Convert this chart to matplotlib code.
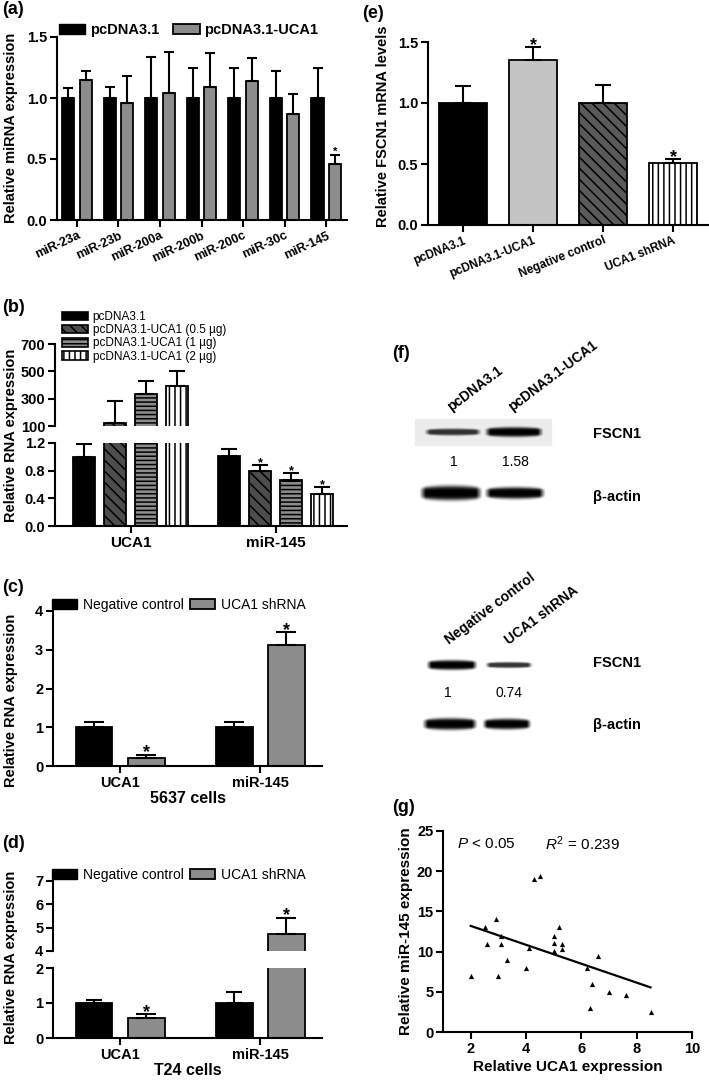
import numpy as np
import matplotlib.pyplot as plt
from matplotlib.patches import Patch, Rectangle

plt.rcParams['font.family'] = ['Liberation Sans', 'DejaVu Sans']
plt.rcParams['font.weight'] = 'bold'
plt.rcParams['axes.labelweight'] = 'bold'
plt.rcParams['axes.linewidth'] = 1.5
plt.rcParams['hatch.linewidth'] = 1.1
plt.rcParams['mathtext.fontset'] = 'custom'
plt.rcParams['mathtext.it'] = 'Liberation Sans:style=italic:weight=normal'
plt.rcParams['mathtext.rm'] = 'Liberation Sans:weight=normal'

# (a) miRNA expression after UCA1 overexpression
mirnas = ['miR-23a', 'miR-23b', 'miR-200a', 'miR-200b', 'miR-200c', 'miR-30c', 'miR-145']
a_ctrl = [1.0, 1.0, 1.0, 1.0, 1.0, 1.0, 1.0]
a_ctrl_top = [1.08, 1.09, 1.34, 1.25, 1.25, 1.22, 1.25]
a_uca1 = [1.15, 0.96, 1.04, 1.09, 1.14, 0.87, 0.46]
a_uca1_top = [1.22, 1.18, 1.38, 1.37, 1.33, 1.03, 0.53]

# (b) dose response, broken axis
b_genes = ['UCA1', 'miR-145']
b_labels = ['pcDNA3.1', 'pcDNA3.1-UCA1 (0.5 µg)', 'pcDNA3.1-UCA1 (1 µg)', 'pcDNA3.1-UCA1 (2 µg)']
b_vals = [[1.0, 1.01], [122, 0.79], [332, 0.67], [392, 0.46]]
b_tops = [[1.18, 1.12], [283, 0.88], [432, 0.77], [500, 0.57]]
b_star = [[0, 0], [0, 1], [0, 1], [0, 1]]

# (c) 5637 cells
cd_genes = ['UCA1', 'miR-145']
cd_labels = ['Negative control', 'UCA1 shRNA']
c_neg = [1.0, 1.0]
c_neg_top = [1.14, 1.14]
c_sh = [0.2, 3.13]
c_sh_top = [0.29, 3.46]

# (d) T24 cells
d_neg = [1.0, 1.0]
d_neg_top = [1.1, 1.32]
d_sh = [0.57, 4.74]
d_sh_top = [0.69, 5.43]

# (e) FSCN1 mRNA
e_groups = ['pcDNA3.1', 'pcDNA3.1-UCA1', 'Negative control', 'UCA1 shRNA']
e_vals = [1.0, 1.35, 1.0, 0.51]
e_tops = [1.14, 1.46, 1.15, 0.54]
e_star = [0, 1, 0, 1]

# (f) western blot quantification
f_lanes_1 = ['pcDNA3.1', 'pcDNA3.1-UCA1']
f_quant_1 = ['1', '1.58']
f_lanes_2 = ['Negative control', 'UCA1 shRNA']
f_quant_2 = ['1', '0.74']

# (g) correlation
g_uca1 = [2.0, 2.5, 2.6, 2.9, 3.0, 3.1, 3.1, 3.3, 4.0, 4.1, 4.3, 4.5, 5.0, 5.0, 5.0,
          5.2, 5.3, 5.3, 6.2, 6.6, 6.3, 6.4, 7.0, 7.6, 8.5]
g_mir = [7.0, 13.0, 11.0, 14.0, 7.0, 12.0, 10.9, 9.0, 8.0, 10.5, 19.0, 19.4, 12.0, 11.1, 10.1,
         13.0, 11.0, 10.3, 8.0, 9.5, 3.0, 6.0, 5.0, 4.6, 2.5]
g_fit_x = [2.0, 8.5]
g_fit_y = [13.2, 5.55]

W, H = 709, 1081
fig = plt.figure(figsize=(W / 100, H / 100), dpi=100)


def px_axes(l, t, r, b):
    return fig.add_axes([l / W, 1 - b / H, (r - l) / W, (b - t) / H])


def fxy(x, y):
    return (x / W, 1 - y / H)


def style(ax, size=10):
    ax.spines['top'].set_visible(False)
    ax.spines['right'].set_visible(False)
    ax.tick_params(width=1.5, length=5, labelsize=size, pad=2)


def bars(ax, x, vals, tops, w, cap, **kw):
    ax.bar(x, vals, w, edgecolor='black', linewidth=1.3, zorder=2, **kw)
    err = np.array(tops) - np.array(vals)
    ax.errorbar(x, vals, yerr=[np.zeros(len(err)), err], fmt='none', ecolor='black',
                elinewidth=1.5, capsize=cap, capthick=1.5, zorder=3)


def star(ax, x, y, size=12, dy=-2):
    lo, hi = ax.get_ylim()
    if lo <= y <= hi:
        ax.annotate('*', (x, y), xytext=(0, dy), textcoords='offset points',
                    ha='center', va='baseline', fontsize=size)


def letter(x, y, s):
    fig.text(x / W, 1 - y / H, s, fontsize=13, va='center', ha='left')


# ---------- (a)
ax = px_axes(57, 37, 347, 220)
x = np.arange(len(mirnas))
bars(ax, x - 0.21, a_ctrl, a_ctrl_top, 0.29, 3.5, color='black')
bars(ax, x + 0.21, a_uca1, a_uca1_top, 0.29, 3.5, color='#8c8c8c')
star(ax, 6 + 0.21, a_uca1_top[6], 8, 0.5)
ax.set_xlim(-0.48, 6.5)
ax.set_ylim(0, 1.5)
ax.set_yticks([0, 0.5, 1.0, 1.5], ['0.0', '0.5', '1.0', '1.5'])
ax.set_xticks(x, mirnas, rotation=25, ha='right', rotation_mode='anchor')
style(ax, 10.5)
ax.tick_params(axis='x', labelsize=9)
fig.legend([Patch(facecolor='black', edgecolor='black'),
            Patch(facecolor='#8c8c8c', edgecolor='black', linewidth=1.3)],
           ['pcDNA3.1', 'pcDNA3.1-UCA1'], loc='center left', bbox_to_anchor=fxy(59, 30),
           ncol=2, frameon=False, fontsize=10.5, handlelength=1.8, handleheight=0.7,
           handletextpad=0.3, columnspacing=1.0, borderpad=0, borderaxespad=0)
fig.text(11 / W, 1 - 128 / H, 'Relative miRNA expression', rotation=90, va='center',
         ha='center', fontsize=10.5)
letter(2, 9, '(a)')

# ---------- (b)
b_colors = ['black', '#4d4d4d', '#8c8c8c', 'white']
b_hatch = [None, '\\\\\\', '----', '|||']
b_off = (np.arange(4) - 1.5) * 0.213
axt = px_axes(55, 344, 347, 426)
axb = px_axes(55, 443, 347, 526)
axt.set_ylim(100, 700)
axb.set_ylim(0, 1.2)
xg = np.arange(2)
for a in (axt, axb):
    for i in range(4):
        bars(a, xg + b_off[i], b_vals[i], b_tops[i], 0.152, 5.5,
             color=b_colors[i], hatch=b_hatch[i])
        for j in range(2):
            if b_star[i][j]:
                star(a, j + b_off[i], b_tops[i][j], 9, -1)
    a.set_xlim(-0.52, 1.49)
    style(a, 10.5)
axt.set_yticks([100, 300, 500, 700])
axt.spines['bottom'].set_visible(False)
axt.tick_params(axis='x', bottom=False, labelbottom=False)
axb.set_yticks([0, 0.4, 0.8, 1.2], ['0.0', '0.4', '0.8', '1.2'])
axb.set_xticks(xg, b_genes, fontsize=11)
axt.legend([Patch(facecolor=b_colors[i], edgecolor='black', hatch=b_hatch[i], linewidth=1.2)
            for i in range(4)], b_labels, loc='upper left', bbox_to_anchor=fxy(62, 311),
           bbox_transform=fig.transFigure, prop={'weight': 'normal', 'size': 8.5},
           handlelength=2.2, handleheight=0.75, labelspacing=0.1, handletextpad=0.4,
           frameon=False, borderpad=0, borderaxespad=0)
fig.text(11 / W, 1 - 435 / H, 'Relative RNA expression', rotation=90, va='center',
         ha='center', fontsize=10.5)
letter(2, 308, '(b)')


# ---------- (c) and (d)
def cd_legend(y):
    fig.legend([Patch(facecolor='black', edgecolor='black'),
                Patch(facecolor='#8c8c8c', edgecolor='black', linewidth=1.3)],
               cd_labels, loc='center left', bbox_to_anchor=fxy(52, y), ncol=2,
               frameon=False, prop={'weight': 'normal', 'size': 10}, handlelength=1.8,
               handleheight=0.7, handletextpad=0.4, columnspacing=0.5, borderpad=0,
               borderaxespad=0)


ax = px_axes(53, 611, 322, 766)
bars(ax, xg - 0.186, c_neg, c_neg_top, 0.26, 7, color='black')
bars(ax, xg + 0.186, c_sh, c_sh_top, 0.26, 7, color='#8c8c8c')
ax.set_ylim(0, 4)
for j in range(2):
    star(ax, j + 0.186, c_sh_top[j], 13)
ax.set_xlim(-0.48, 1.44)
ax.set_yticks([0, 1, 2, 3, 4])
ax.set_xticks(xg, cd_genes)
style(ax, 10.5)
ax.set_xlabel('5637 cells', fontsize=11.5, labelpad=1)
cd_legend(605)
fig.text(11 / W, 1 - 700 / H, 'Relative RNA expression', rotation=90, va='center',
         ha='center', fontsize=10.5)
letter(2, 588, '(c)')

axt = px_axes(53, 881, 322, 951)
axb = px_axes(53, 968, 322, 1038)
axt.set_ylim(4, 7)
axb.set_ylim(0, 2)
for a in (axt, axb):
    bars(a, xg - 0.186, d_neg, d_neg_top, 0.26, 6, color='black')
    bars(a, xg + 0.186, d_sh, d_sh_top, 0.26, 7, color='#8c8c8c')
    for j in range(2):
        star(a, j + 0.186, d_sh_top[j], 13)
    a.set_xlim(-0.48, 1.44)
    style(a, 10.5)
axt.set_yticks([4, 5, 6, 7])
axt.spines['bottom'].set_visible(False)
axt.tick_params(axis='x', bottom=False, labelbottom=False)
axb.set_yticks([0, 1, 2])
axb.set_xticks(xg, cd_genes)
axb.set_xlabel('T24 cells', fontsize=11.5, labelpad=1)
cd_legend(875)
fig.text(11 / W, 1 - 957 / H, 'Relative RNA expression', rotation=90, va='center',
         ha='center', fontsize=10.5)
letter(2, 844, '(d)')

# ---------- (e)
ax = px_axes(428, 42, 708, 225)
e_colors = ['black', '#c4c4c4', '#5a5a5a', 'white']
e_hatch = [None, None, '\\\\\\', '|||']
for i in range(4):
    bars(ax, [i], [e_vals[i]], [e_tops[i]], 0.68, 6, color=e_colors[i], hatch=e_hatch[i])
    if e_star[i]:
        star(ax, i, e_tops[i], 13)
ax.set_xlim(-0.5, 3.5)
ax.set_ylim(0, 1.5)
ax.set_yticks([0, 0.5, 1.0, 1.5], ['0.0', '0.5', '1.0', '1.5'])
ax.set_xticks(range(4), e_groups, rotation=22, ha='right', rotation_mode='anchor')
style(ax, 10.5)
ax.tick_params(axis='x', labelsize=8.5)
fig.text(383 / W, 1 - 126 / H, 'Relative FSCN1 mRNA levels', rotation=90, va='center',
         ha='center', fontsize=10.5)
letter(362, 13, '(e)')

# ---------- (f) western blots
axf = px_axes(360, 280, 709, 740)


def band(a, xc, yc, w, t, k):
    xs = np.linspace(-1, 1, 90)
    ys = np.linspace(-1, 1, 40)
    X, Y = np.meshgrid(xs, ys)
    edge = np.clip((1 - np.abs(X)) / 0.2, 0, 1)
    thick = 0.5 + 0.5 * np.sqrt(1 - X ** 2)
    alpha = k * edge * np.exp(-(Y / (0.5 * thick)) ** 4)
    rgba = np.zeros((40, 90, 4))
    rgba[..., 3] = np.clip(alpha, 0, 1)
    a.imshow(rgba, extent=(xc - w / 2, xc + w / 2, yc + t, yc - t), aspect='auto',
             interpolation='bilinear', zorder=2)


axf.add_patch(Rectangle((415, 419), 136, 26, color='#ececec', zorder=1))
band(axf, 453, 432, 58, 7, 0.8)
band(axf, 514, 432, 60, 10, 1.0)
band(axf, 451, 493, 64, 15, 1.0)
band(axf, 515, 493, 62, 12, 1.0)
band(axf, 452, 665, 52, 10, 1.0)
band(axf, 509, 665, 48, 6, 0.8)
band(axf, 450, 724, 56, 12, 1.0)
band(axf, 507, 724, 50, 11, 1.0)
axf.set_xlim(360, 709)
axf.set_ylim(740, 280)
axf.axis('off')
for xl, lab in zip([451, 512], f_lanes_1):
    axf.text(xl, 412, lab, rotation=37, ha='left', va='baseline', rotation_mode='anchor',
             fontsize=10)
for xl, q in zip([454, 515], f_quant_1):
    axf.text(xl, 462, q, ha='center', va='center', fontsize=10, fontweight='normal')
for xl, lab in zip([449, 509], f_lanes_2):
    axf.text(xl, 645, lab, rotation=37, ha='left', va='baseline', rotation_mode='anchor',
             fontsize=10)
for xl, q in zip([448, 509], f_quant_2):
    axf.text(xl, 693, q, ha='center', va='center', fontsize=10, fontweight='normal')
for yl, lab in zip([434, 497, 663, 725], ['FSCN1', 'β-actin', 'FSCN1', 'β-actin']):
    axf.text(593, yl, lab, ha='left', va='center', fontsize=10.5)
letter(392, 353, '(f)')

# ---------- (g)
ax = px_axes(443, 831, 692, 1032)
ax.scatter(g_uca1, g_mir, marker='^', s=14, color='black', linewidths=0, zorder=3)
ax.plot(g_fit_x, g_fit_y, color='black', lw=1.6)
ax.set_xlim(1, 10)
ax.set_ylim(0, 25)
ax.set_xticks([2, 4, 6, 8, 10])
ax.set_yticks([0, 5, 10, 15, 20, 25])
style(ax, 10.5)
ax.set_xlabel('Relative UCA1 expression', fontsize=11, labelpad=3)
ax.set_ylabel('Relative miR-145 expression', fontsize=11, labelpad=3)
ax.text(1.5, 23.4, '$P$ < 0.05', fontsize=11, fontweight='normal', va='center')
ax.text(4.68, 23.4, '$R^2$ = 0.239', fontsize=11, fontweight='normal', va='center')
letter(392, 808, '(g)')

fig.savefig('out.png', dpi=100)
